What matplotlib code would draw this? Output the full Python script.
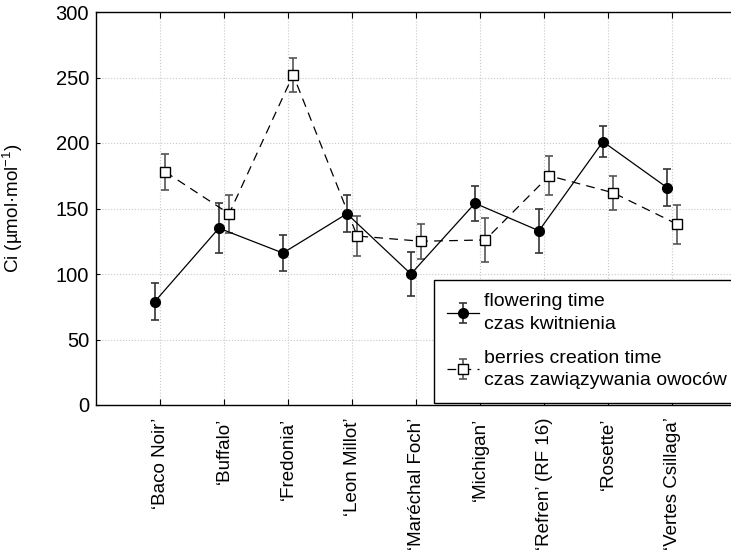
import matplotlib.pyplot as plt
import numpy as np

plt.rcParams['font.family'] = ['Liberation Sans', 'DejaVu Sans']
plt.rcParams['mathtext.fontset'] = 'custom'
plt.rcParams['mathtext.rm'] = 'Liberation Sans'
plt.rcParams['mathtext.it'] = 'Liberation Sans'

cultivars = ['\u2018Baco Noir\u2019', '\u2018Buffalo\u2019', '\u2018Fredonia\u2019',
             '\u2018Leon Millot\u2019', '\u2018Mar\u00e9chal Foch\u2019', '\u2018Michigan\u2019',
             '\u2018Refren\u2019 (RF 16)', '\u2018Rosette\u2019', '\u2018Vertes Csillaga\u2019']

flowering = [79, 135, 116, 146, 100, 154, 133, 201, 166]
flowering_err = [14, 19, 14, 14, 17, 13.5, 17, 12, 14]

berries = [178, 146, 252, 129, 125, 126, 175, 162, 138]
berries_err = [13.5, 14.5, 13, 15, 13.5, 17, 15, 13, 15]

x = np.arange(1, len(cultivars) + 1)
shift = 0.08

fig = plt.figure(figsize=(7.31, 5.59), dpi=100)
ax = fig.add_axes([96 / 731, 154 / 559, 1 - 96 / 731, 393 / 559])

ax.errorbar(x - shift, flowering, yerr=flowering_err, color='black', lw=0.9,
            marker='o', ms=7, mfc='black', mec='black',
            ecolor='#333333', elinewidth=1.2, capsize=3, capthick=1.2,
            label='flowering time\nczas kwitnienia', zorder=3)
ax.errorbar(x + shift, berries, yerr=berries_err, color='black', lw=0.9,
            ls=(0, (7, 5)), marker='s', ms=7, mfc='white', mec='black',
            ecolor='#555555', elinewidth=1.2, capsize=3, capthick=1.2,
            label='berries creation time\nczas zawi\u0105zywania owoc\u00f3w', zorder=3)

ax.set_xlim(0, 9.92)
ax.set_ylim(0, 300)
ax.set_yticks(np.arange(0, 301, 50))
ax.set_xticks(x)
ax.set_xticklabels(cultivars, rotation=90, fontsize=13.5)
ax.tick_params(axis='y', labelsize=14.5, direction='in', length=3, pad=5)
ax.tick_params(axis='x', direction='in', length=4, top=True, pad=9)

ax.set_ylabel('Ci (\u00b5mol\u00b7mol$^{-1}$)', fontsize=13.5)
ax.yaxis.set_label_coords(-0.112, 0.5)

ax.grid(color='#c8c8c8', linestyle=':', linewidth=0.8)
ax.set_axisbelow(True)
ax.spines['right'].set_visible(False)
for s in ['left', 'bottom', 'top']:
    ax.spines[s].set_linewidth(1.0)

leg = ax.legend(loc='lower left', bbox_to_anchor=(0.532, 0.005), fontsize=14,
                fancybox=False, edgecolor='black', framealpha=1,
                handlelength=1.6, handletextpad=0.3, borderpad=0.7,
                labelspacing=0.85, borderaxespad=0)
leg.get_frame().set_linewidth(1.0)
for t in leg.get_texts():
    t.set_linespacing(1.45)

fig.savefig('out.png', dpi=100)
